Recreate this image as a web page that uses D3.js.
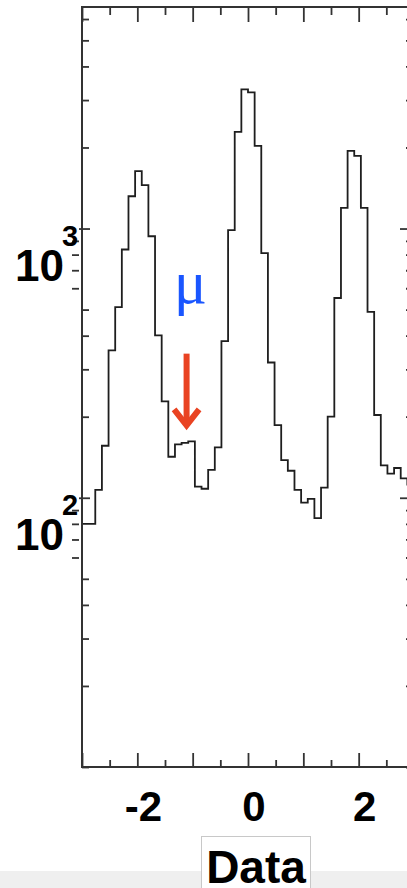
<!DOCTYPE html>
<html>
<head>
<meta charset="utf-8">
<script src="https://cdn.jsdelivr.net/npm/d3@7"></script>
<style>
  html, body { margin: 0; padding: 0; background: #fff; }
  svg { display: block; }
</style>
</head>
<body>
<div id="chart"></div>
<script>
// ── Data ──────────────────────────────────────────────
// histogram, 50 bins of width 0.12 covering [-3, 3]
var binStart = -3;
var binWidth = 0.12;
var counts = [
  80, 80, 107, 156, 353, 511, 836, 1318, 1633, 1449,
  936, 401, 228, 142, 158, 160, 162, 110, 108, 127,
  154, 382, 986, 2286, 3288, 3206, 2028, 811, 318, 186,
  138, 126, 107, 96, 99, 84, 109, 200, 552, 1193,
  1942, 1862, 1193, 490, 203, 132, 123, 129, 118, 112
];
var xDomain = [-3, 3];
var yDomain = [10, 6650];
var xMajorTicks = [-3, -2, -1, 0, 1, 2, 3];
var xLabelTicks = [-2, 0, 2];
var xMinorTicks = [-2.5, -1.5, -0.5, 0.5, 1.5, 2.5];
var yLabelTicks = [100, 1000];
var xTitle = "Data";
var markSymbol = "\u03bc";

// ── Layout ────────────────────────────────────────────
var W = 407, H = 888;
var pL = 82, pR = 414, pT = 7, pB = 767;
var boldFont = "'Liberation Sans', Arial, sans-serif";

var svg = d3.select("#chart").append("svg")
  .attr("width", W).attr("height", H);

var x = d3.scaleLinear().domain(xDomain).range([pL, pR]);
var y = d3.scaleLog().domain(yDomain).range([pB, pT]);

svg.append("defs").append("clipPath").attr("id", "plot")
  .append("rect").attr("x", pL).attr("y", pT)
  .attr("width", pR - pL).attr("height", pB - pT);

// ── Histogram line ────────────────────────────────────
var pts = counts.map(function (c, i) { return [binStart + i * binWidth, c]; });
pts.push([binStart + counts.length * binWidth, counts[counts.length - 1]]);

var line = d3.line()
  .x(function (d) { return x(d[0]); })
  .y(function (d) { return y(d[1]); })
  .curve(d3.curveStepAfter);

svg.append("path")
  .datum(pts)
  .attr("clip-path", "url(#plot)")
  .attr("fill", "none")
  .attr("stroke", "#1e1e1e")
  .attr("stroke-width", 1.8)
  .attr("d", line);

// ── Axes ──────────────────────────────────────────────
function styleAxis(g) {
  g.select(".domain").remove();
  g.selectAll(".tick line").attr("stroke", "#333").attr("stroke-width", 1.8);
  g.selectAll(".tick text").remove();
}

// bottom / top
svg.append("g").attr("transform", "translate(0," + pB + ")")
  .call(d3.axisBottom(x).tickValues(xMajorTicks).tickSize(-14)).call(styleAxis);
svg.append("g").attr("transform", "translate(0," + pB + ")")
  .call(d3.axisBottom(x).tickValues(xMinorTicks).tickSize(-7)).call(styleAxis);
svg.append("g").attr("transform", "translate(0," + pT + ")")
  .call(d3.axisTop(x).tickValues(xMajorTicks).tickSize(-15)).call(styleAxis);
svg.append("g").attr("transform", "translate(0," + pT + ")")
  .call(d3.axisTop(x).tickValues(xMinorTicks).tickSize(-8)).call(styleAxis);

// left: minor ticks mostly inward, 6..9 in the lower decades drawn outward
var yMinor = y.ticks().filter(function (v) { return yLabelTicks.indexOf(v) < 0; });
var yIn = yMinor.filter(function (v) {
  var m = Math.round(v / Math.pow(10, Math.floor(Math.log10(v) + 1e-9)));
  return !(m >= 6 && v < 1000);
});
var yOut = yMinor.filter(function (v) { return yIn.indexOf(v) < 0; });

svg.append("g").attr("transform", "translate(" + pL + ",0)")
  .call(d3.axisLeft(y).tickValues(yIn).tickSize(-7)).call(styleAxis);
svg.append("g").attr("transform", "translate(" + (pL - 3) + ",0)")
  .call(d3.axisLeft(y).tickValues(yOut).tickSize(7)).call(styleAxis);
svg.append("g").attr("transform", "translate(" + (pL - 3) + ",0)")
  .call(d3.axisLeft(y).tickValues(yLabelTicks).tickSize(-11)).call(styleAxis);

// right (sits just past the window edge)
svg.append("g").attr("transform", "translate(" + pR + ",0)")
  .call(d3.axisRight(y).tickValues(yMinor).tickSize(-8)).call(styleAxis);
svg.append("g").attr("transform", "translate(" + pR + ",0)")
  .call(d3.axisRight(y).tickValues(yLabelTicks).tickSize(-14)).call(styleAxis);

// frame
var frame = svg.append("g").attr("stroke", "#333").attr("stroke-width", 2).attr("fill", "none");
frame.append("line").attr("x1", pL).attr("x2", pL).attr("y1", pT).attr("y2", pB);
frame.append("line").attr("x1", pL - 1).attr("x2", pR).attr("y1", pT).attr("y2", pT);
frame.append("line").attr("x1", pL - 1).attr("x2", pR).attr("y1", pB).attr("y2", pB);
frame.append("line").attr("x1", pR).attr("x2", pR).attr("y1", pT).attr("y2", pB);

// x tick labels
svg.append("g").selectAll("text")
  .data(xLabelTicks).join("text")
  .attr("x", function (d) { return x(d) + 6; })
  .attr("y", 821)
  .attr("text-anchor", "middle")
  .attr("font-family", boldFont)
  .attr("font-weight", "bold")
  .attr("font-size", 42)
  .attr("fill", "#000")
  .text(function (d) { return d < 0 ? "-" + Math.abs(d) : String(d); });

// y tick labels: 10^n
var yl = svg.append("g").selectAll("g")
  .data(yLabelTicks).join("g")
  .attr("transform", function (d) { return "translate(0," + y(d) + ")"; });
yl.append("text")
  .attr("x", 64).attr("y", 52)
  .attr("text-anchor", "end")
  .attr("font-family", boldFont).attr("font-weight", "bold")
  .attr("font-size", 44).attr("fill", "#000")
  .text("10");
yl.append("text")
  .attr("x", 62).attr("y", 17)
  .attr("font-family", boldFont).attr("font-weight", "bold")
  .attr("font-size", 29).attr("fill", "#000")
  .text(function (d) { return String(Math.round(Math.log10(d))); });

// ── Annotations ───────────────────────────────────────
svg.append("text")
  .attr("x", x(-1.04)).attr("y", y(530))
  .attr("text-anchor", "middle")
  .attr("font-family", "'Liberation Serif', 'DejaVu Serif', serif")
  .attr("font-size", 62)
  .attr("fill", "#1a56ff")
  .text(markSymbol);

var ax = x(-1.11), aTop = y(343), aTip = y(181);
var arrow = svg.append("g")
  .attr("stroke", "#e94322").attr("stroke-width", 6).attr("fill", "none");
arrow.append("line").attr("x1", ax).attr("x2", ax).attr("y1", aTop).attr("y2", aTip - 3);
arrow.append("path")
  .attr("stroke-linejoin", "miter")
  .attr("d", "M" + (ax - 12.5) + "," + (aTip - 19) + "L" + ax + "," + (aTip - 3) + "L" + (ax + 12.5) + "," + (aTip - 19));

// ── Bottom strip and title box ────────────────────────
svg.append("rect").attr("x", 0).attr("y", 871).attr("width", W).attr("height", H - 871)
  .attr("fill", "#efefef");
svg.append("rect").attr("x", 201.5).attr("y", 836.5).attr("width", 109).attr("height", 60)
  .attr("fill", "#fff").attr("stroke", "#c8c8c8").attr("stroke-width", 1);
svg.append("text")
  .attr("x", 256).attr("y", 883)
  .attr("text-anchor", "middle")
  .attr("font-family", boldFont).attr("font-weight", "bold")
  .attr("font-size", 46).attr("fill", "#000")
  .text(xTitle);
</script>
</body>
</html>
